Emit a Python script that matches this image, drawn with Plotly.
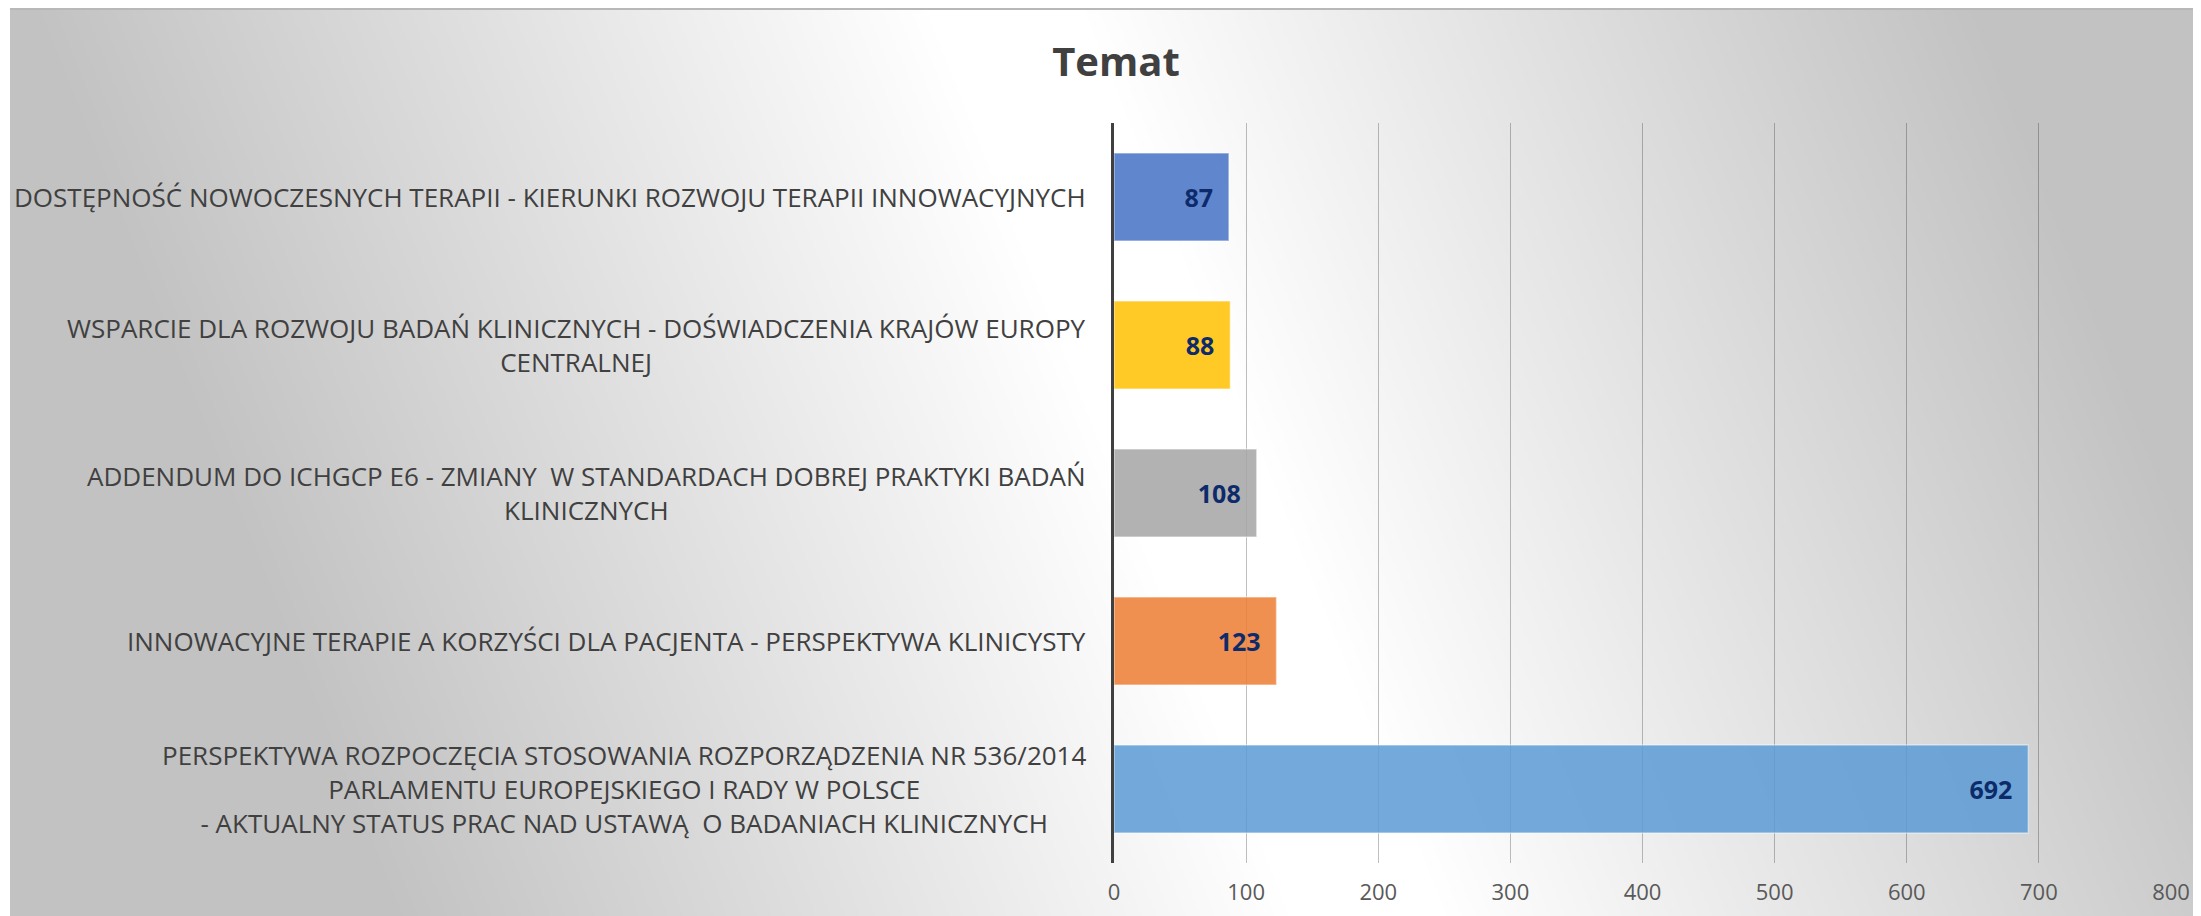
import base64, struct, zlib
import numpy as np
import plotly.graph_objects as go

# ---------------- data ----------------
categories = [
    "PERSPEKTYWA ROZPOCZĘCIA STOSOWANIA ROZPORZĄDZENIA NR 536/2014<br>PARLAMENTU EUROPEJSKIEGO I RADY W POLSCE<br>- AKTUALNY STATUS PRAC NAD USTAWĄ  O BADANIACH KLINICZNYCH",
    "INNOWACYJNE TERAPIE A KORZYŚCI DLA PACJENTA - PERSPEKTYWA KLINICYSTY",
    "ADDENDUM DO ICHGCP E6 - ZMIANY  W STANDARDACH DOBREJ PRAKTYKI BADAŃ<br>KLINICZNYCH",
    "WSPARCIE DLA ROZWOJU BADAŃ KLINICZNYCH - DOŚWIADCZENIA KRAJÓW EUROPY<br>CENTRALNEJ",
    "DOSTĘPNOŚĆ NOWOCZESNYCH TERAPII - KIERUNKI ROZWOJU TERAPII INNOWACYJNYCH",
]
values = [692, 123, 108, 88, 87]
tick_values = [0, 100, 200, 300, 400, 500, 600, 700, 800]
title_text = "Temat"

# ---------------- style ----------------
bar_colors = ["rgba(91,155,213,0.85)", "rgba(237,125,49,0.85)", "rgba(165,165,165,0.85)",
              "rgba(255,192,0,0.85)", "rgba(68,114,196,0.85)"]

OFF = 8  # page body margin
PW, PH = 2201, 916
W, H = PW - OFF, PH - OFF
# page-pixel positions of the plot area
px_l, px_r, px_t, px_b = 1114, 2171, 123, 863
L_M, R_M, T_M, B_M = px_l - OFF, PW - px_r, px_t - OFF, PH - px_b
plot_w = W - L_M - R_M
plot_h = H - T_M - B_M

# frame (gradient background) in page pixels
fx0, fy0, fx1, fy1 = 10, 8, PW, PH


def make_png(arr):
    h, w = arr.shape
    raw = b"".join(b"\x00" + arr[i].tobytes() for i in range(h))
    def chunk(t, d):
        c = struct.pack(">I", len(d)) + t + d
        return c + struct.pack(">I", zlib.crc32(t + d) & 0xffffffff)
    png = b"\x89PNG\r\n\x1a\n"
    png += chunk(b"IHDR", struct.pack(">IIBBBBB", w, h, 8, 0, 0, 0, 0))
    png += chunk(b"IDAT", zlib.compress(raw, 9))
    png += chunk(b"IEND", b"")
    return "data:image/png;base64," + base64.b64encode(png).decode()


sc = 2
gw, gh = (fx1 - fx0) // sc, (fy1 - fy0) // sc
xs = fx0 + np.arange(gw) * sc
ys = fy0 + np.arange(gh) * sc
X, Y = np.meshgrid(xs, ys)
cx = 1000 + 0.4 * Y
d = np.abs(X - cx)
t = np.clip((d - 80) / 900.0, 0, 1)
Lum = np.clip(255 - 61 * t, 194, 255).astype(np.uint8)
bg_src = make_png(Lum)


def px_to_paper_x(px):  # page px -> paper
    return (px - px_l) / plot_w


def px_to_paper_y(py):
    return (px_b - py) / plot_h


fig = go.Figure()
fig.add_trace(go.Bar(
    y=categories, x=values, orientation="h",
    marker=dict(color=bar_colors, line=dict(color="rgba(255,255,255,0.45)", width=1.5)),
    texttemplate="%{x}\u00a0\u00a0", textposition="inside", insidetextanchor="end",
    textangle=0, constraintext="none",
    textfont=dict(family="Open Sans", size=25, color="#0D2B6B", weight="bold"),
    hoverinfo="skip", showlegend=False,
))

annotations = []
for c in categories:
    annotations.append(dict(
        x=0, xref="paper", y=c, yref="y", text=c, showarrow=False,
        xanchor="right", yanchor="middle", align="center", xshift=-26,
        font=dict(family="Open Sans", size=26, color="#404040"),
    ))

fig.update_layout(
    width=W, height=H,
    margin=dict(l=L_M, r=R_M, t=T_M, b=B_M, autoexpand=False),
    paper_bgcolor="white", plot_bgcolor="rgba(0,0,0,0)",
    bargap=0.405,
    title=dict(text=title_text, x=(1116 - OFF) / W, xanchor="center", xref="container",
               y=1 - (62 - OFF) / H, yanchor="middle", yref="container",
               font=dict(family="Open Sans", size=40, color="#404040", weight="bold")),
    xaxis=dict(range=[0, 800], tickvals=tick_values, showgrid=True,
               gridcolor="rgba(0,0,0,0.25)", gridwidth=1, zeroline=False,
               showline=False, ticks="", ticklabelstandoff=14,
               tickfont=dict(family="Open Sans", size=22, color="#595959")),
    yaxis=dict(showticklabels=False, showgrid=False, zeroline=False,
               showline=True, linecolor="#404040", linewidth=3, ticks=""),
    annotations=annotations,
    images=[dict(source=bg_src, xref="paper", yref="paper",
                 x=px_to_paper_x(fx0), y=px_to_paper_y(fy0),
                 sizex=(fx1 - fx0) / plot_w, sizey=(fy1 - fy0) / plot_h,
                 xanchor="left", yanchor="top", sizing="stretch", layer="below")],
    shapes=[dict(type="line", xref="paper", yref="paper",
                 x0=px_to_paper_x(fx0), x1=px_to_paper_x(fx1),
                 y0=px_to_paper_y(fy0 + 1), y1=px_to_paper_y(fy0 + 1),
                 line=dict(color="#b8b8b8", width=2), layer="below")],
)

fig.write_html("out.html")
